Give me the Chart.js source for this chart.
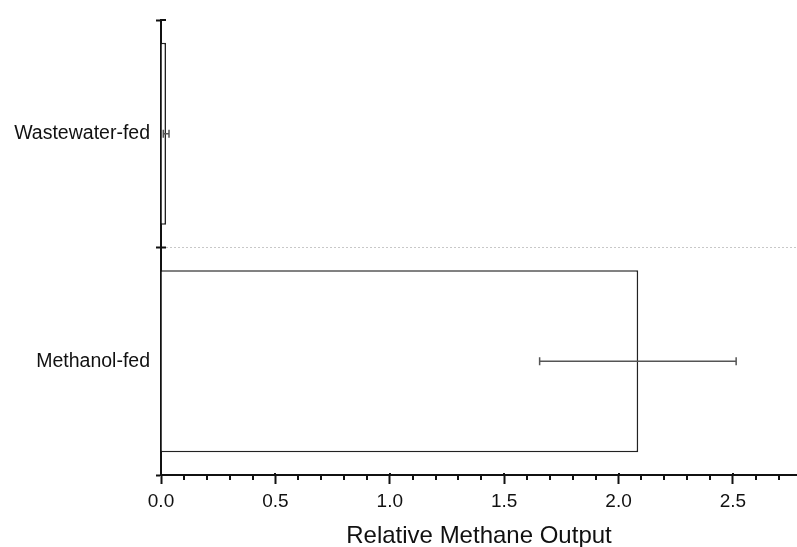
<!DOCTYPE html>
<html><head><meta charset="utf-8">
<script src="https://cdn.jsdelivr.net/npm/chart.js@4/dist/chart.umd.min.js"></script>
<style>html,body{margin:0;padding:0;background:#fff}#wrap{width:797px;height:547px}</style>
</head><body><div id="wrap"><canvas id="c" width="797" height="547"></canvas></div>
<script>
const categories = ['Wastewater-fed', 'Methanol-fed'];
const meanValues = [0.022, 2.086];
const errLow = [0.010, 1.655];
const errHigh = [0.035, 2.514];
const axisTitle = 'Relative Methane Output';
const xMin = 0, xMax = 2.78, majorStep = 0.5, minorStep = 0.1;

const FONT = "'Liberation Sans', Arial, sans-serif";
const INK = '#111';

const extrasPlugin = {
  id: 'extras',
  afterDatasetsDraw(chart) {
    const ctx = chart.ctx;
    const xs = chart.scales.x;
    const meta = chart.getDatasetMeta(0);
    ctx.save();
    ctx.strokeStyle = '#555';
    ctx.lineWidth = 1.5;
    meta.data.forEach((el, i) => {
      const y = el.y;
      const x1 = xs.getPixelForValue(errLow[i]);
      const x2 = xs.getPixelForValue(errHigh[i]);
      const cap = 4;
      ctx.beginPath();
      ctx.moveTo(x1, y); ctx.lineTo(x2, y);
      ctx.moveTo(x1, y - cap); ctx.lineTo(x1, y + cap);
      ctx.moveTo(x2, y - cap); ctx.lineTo(x2, y + cap);
      ctx.stroke();
    });
    ctx.restore();
  },
  afterDraw(chart) {
    const ctx = chart.ctx;
    const xs = chart.scales.x, ys = chart.scales.y;
    ctx.save();
    ctx.strokeStyle = INK;
    ctx.lineWidth = 2;
    const yAx = xs.top;
    for (let k = 1; k * minorStep <= xMax + 1e-9; k++) {
      if (k % 5 === 0) continue;
      const px = Math.round(xs.getPixelForValue(k * minorStep));
      ctx.beginPath(); ctx.moveTo(px, yAx); ctx.lineTo(px, yAx + 5); ctx.stroke();
    }
    for (let k = 0; k * majorStep <= xMax + 1e-9; k++) {
      const px = Math.round(xs.getPixelForValue(k * majorStep));
      ctx.beginPath(); ctx.moveTo(px, yAx); ctx.lineTo(px, yAx - 2); ctx.stroke();
    }
    const mid = (ys.getPixelForValue(0) + ys.getPixelForValue(1)) / 2;
    [ys.top, mid].forEach(py => {
      ctx.beginPath(); ctx.moveTo(ys.right, py); ctx.lineTo(ys.right + 5, py); ctx.stroke();
    });
    ctx.restore();
  }
};

new Chart(document.getElementById('c'), {
  type: 'bar',
  data: {
    labels: categories,
    datasets: [{
      data: meanValues,
      backgroundColor: '#ffffff',
      borderColor: '#222',
      borderWidth: 1.6,
      barPercentage: 0.8,
      categoryPercentage: 1.0
    }]
  },
  options: {
    indexAxis: 'y',
    responsive: false,
    devicePixelRatio: 1,
    animation: false,
    layout: { padding: { top: 20, left: 0, right: 0, bottom: 0 } },
    plugins: { legend: { display: false }, tooltip: { enabled: false } },
    scales: {
      x: {
        type: 'linear',
        min: xMin, max: xMax,
        afterFit(s) { s.height = 72; },
        ticks: {
          stepSize: majorStep,
          includeBounds: false,
          color: INK,
          padding: 6,
          font: { family: FONT, size: 19 },
          callback: v => v.toFixed(1)
        },
        grid: { drawOnChartArea: false, tickLength: 9, tickColor: INK, tickWidth: 2 },
        border: { display: true, color: INK, width: 2 },
        title: {
          display: true, text: axisTitle, color: INK,
          font: { family: FONT, size: 24, lineHeight: 1 },
          padding: { top: 0, bottom: -1 }
        }
      },
      y: {
        type: 'category',
        afterFit(s) { s.width = 161; },
        ticks: { color: INK, padding: 6, font: { family: FONT, size: 19.5 } },
        grid: {
          offset: true,
          drawOnChartArea: true,
          color: c => c.index === 1 ? '#c8c8c8' : 'rgba(0,0,0,0)',
          lineWidth: 1,
          tickLength: 5, tickColor: INK, tickWidth: 2
        },
        border: { display: true, color: INK, width: 2, dash: [2, 2] }
      }
    }
  },
  plugins: [extrasPlugin]
});
</script>
</body></html>
